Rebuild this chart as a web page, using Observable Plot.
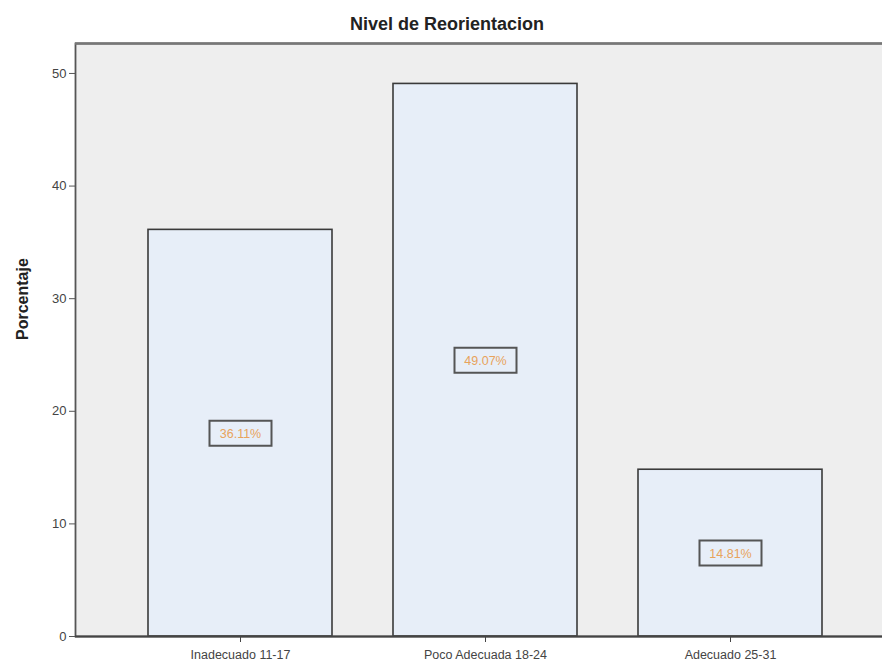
<!DOCTYPE html>
<html>
<head>
<meta charset="utf-8">
<script src="https://cdn.jsdelivr.net/npm/d3@7"></script>
<script src="https://cdn.jsdelivr.net/npm/@observablehq/plot@0.6"></script>
<style>
  html, body { margin: 0; padding: 0; background: #ffffff; width: 882px; height: 665px; overflow: hidden; }
  #title { height: 40px; width: 882px; box-sizing: border-box; padding-left: 12px; text-align: center; font-family: "Liberation Sans", Arial, sans-serif; font-weight: bold; font-size: 18px; line-height: 49px; color: #222; }
  #chart { width: 882px; overflow: hidden; }
  #chart svg { display: block; max-width: none; }
</style>
</head>
<body>
<div id="title">Nivel de Reorientacion</div>
<div id="chart"></div>
<script>
const categories = ["Inadecuado 11-17", "Poco Adecuada 18-24", "Adecuado 25-31"];
const percentages = [36.11, 49.07, 14.81];
const valueLabels = ["36.11%", "49.07%", "14.81%"];
const yTicks = [0, 10, 20, 30, 40, 50];

const data = categories.map((c, i) => ({category: c, value: percentages[i], label: valueLabels[i]}));

const boxSymbol = { draw(ctx) { ctx.rect(-31, -12.5, 62, 25); } };

const chart = Plot.plot({
  width: 882,
  height: 625,
  marginTop: 3,
  marginLeft: 75,
  marginRight: -12,
  marginBottom: 29,
  style: { fontFamily: "Liberation Sans, Arial, sans-serif", fontSize: "13px", color: "#444", background: "transparent", overflow: "hidden" },
  x: { domain: categories, range: [75, 894], paddingInner: 0.25, paddingOuter: 0.294, label: null },
  y: { domain: [0, 52.66], label: null },
  marks: [
    Plot.frame({ fill: "#eeeeee", stroke: null }),
    Plot.barY(data, { x: "category", y: "value", fill: "#e7eef8", stroke: "#3a3a3a", strokeWidth: 1.6 }),
    Plot.dot(data, { x: "category", y: d => d.value / 2, symbol: boxSymbol, r: 5, fill: "none", stroke: "#555", strokeWidth: 2 }),
    Plot.text(data, { x: "category", y: d => d.value / 2, text: "label", fill: "#e8a35c", fontSize: 12.5, dy: 1 }),
    Plot.frame({ stroke: "#555", strokeWidth: 1.8, fill: "none" }),
    Plot.ruleY([52.66], { stroke: "#777", strokeWidth: 2.4 }),
    Plot.ruleY([0], { stroke: "#444", strokeWidth: 1.8 }),
    Plot.axisY({ ticks: yTicks, tickSize: 6, tickFormat: d => String(d), stroke: "#555", tickPadding: 3 }),
    Plot.axisX({ tickSize: 6, stroke: "#444", tickPadding: 8, fontSize: 12.5 }),
    Plot.text(["Porcentaje"], { frameAnchor: "left", dx: -53, rotate: -90, fontWeight: "bold", fontSize: 16, fill: "#222" })
  ]
});

document.getElementById("chart").appendChild(chart);
</script>
</body>
</html>
